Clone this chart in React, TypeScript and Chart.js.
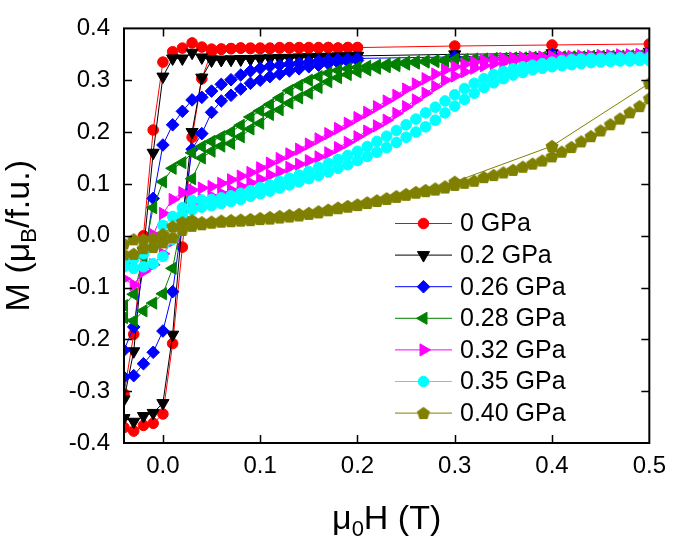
import React, { useEffect, useRef } from 'react';
import { Chart, registerables } from 'chart.js';

Chart.register(...registerables);

const seriesLabels = ['0 GPa', '0.2 GPa', '0.26 GPa', '0.28 GPa', '0.32 GPa', '0.35 GPa', '0.40 GPa'];
const seriesColors = ['#ff0000', '#000000', '#0000ff', '#008000', '#ff00ff', '#00ffff', '#808000'];

const xTickValues = [0, 0.1, 0.2, 0.3, 0.4, 0.5];
const xTickLabels = ['0.0', '0.1', '0.2', '0.3', '0.4', '0.5'];
const yTickValues = [-0.4, -0.3, -0.2, -0.1, 0, 0.1, 0.2, 0.3, 0.4];
const yTickLabels = ['-0.4', '-0.3', '-0.2', '-0.1', '0.0', '0.1', '0.2', '0.3', '0.4'];

const fieldDownShort = [0.5, 0.4, 0.3, 0.2, 0.19, 0.18, 0.17, 0.16, 0.15, 0.14, 0.13, 0.12, 0.11, 0.1, 0.09, 0.08, 0.07, 0.06, 0.05, 0.04, 0.03, 0.02, 0.01, 0, -0.01, -0.02, -0.03, -0.04, -0.05];
const fieldUpShort = [-0.05, -0.04, -0.03, -0.02, -0.01, 0, 0.01, 0.02, 0.03, 0.04, 0.05, 0.06, 0.07, 0.08, 0.09, 0.1, 0.11, 0.12, 0.13, 0.14, 0.15, 0.16, 0.17, 0.18, 0.19, 0.2];
const fieldDownFull = [0.5, 0.49, 0.48, 0.47, 0.46, 0.45, 0.44, 0.43, 0.42, 0.41, 0.4, 0.39, 0.38, 0.37, 0.36, 0.35, 0.34, 0.33, 0.32, 0.31, 0.3, 0.29, 0.28, 0.27, 0.26, 0.25, 0.24, 0.23, 0.22, 0.21, 0.2, 0.19, 0.18, 0.17, 0.16, 0.15, 0.14, 0.13, 0.12, 0.11, 0.1, 0.09, 0.08, 0.07, 0.06, 0.05, 0.04, 0.03, 0.02, 0.01, 0, -0.01, -0.02, -0.03, -0.04, -0.05];
const fieldUpFull = [-0.05, -0.04, -0.03, -0.02, -0.01, 0, 0.01, 0.02, 0.03, 0.04, 0.05, 0.06, 0.07, 0.08, 0.09, 0.1, 0.11, 0.12, 0.13, 0.14, 0.15, 0.16, 0.17, 0.18, 0.19, 0.2, 0.21, 0.22, 0.23, 0.24, 0.25, 0.26, 0.27, 0.28, 0.29, 0.3, 0.31, 0.32, 0.33, 0.34, 0.35, 0.36, 0.37, 0.38, 0.39, 0.4, 0.41, 0.42, 0.43, 0.44, 0.45, 0.46, 0.47, 0.48, 0.49, 0.5];
const fieldDownOlive = [0.5, 0.4, 0.3, 0.29, 0.28, 0.27, 0.26, 0.25, 0.24, 0.23, 0.22, 0.21, 0.2, 0.19, 0.18, 0.17, 0.16, 0.15, 0.14, 0.13, 0.12, 0.11, 0.1, 0.09, 0.08, 0.07, 0.06, 0.05, 0.04, 0.03, 0.02, 0.01, 0, -0.01, -0.02, -0.03, -0.04, -0.05];

// 0 GPa
const m0Down = [0.370, 0.368, 0.366, 0.363, 0.363, 0.362, 0.363, 0.362, 0.363, 0.362, 0.363, 0.362, 0.361, 0.362, 0.361, 0.362, 0.361, 0.360, 0.360, 0.364, 0.372, 0.362, 0.355, 0.335, 0.204, 0.0, -0.19, -0.305, -0.36];
const m0Up = [-0.37, -0.37, -0.377, -0.366, -0.362, -0.344, -0.208, -0.022, 0.19, 0.303, 0.355, 0.360, 0.361, 0.362, 0.362, 0.361, 0.362, 0.363, 0.362, 0.363, 0.362, 0.363, 0.363, 0.362, 0.363, 0.363];
// 0.2 GPa
const m02Down = [0.355, 0.352, 0.350, 0.347, 0.346, 0.346, 0.345, 0.345, 0.344, 0.344, 0.343, 0.343, 0.342, 0.342, 0.341, 0.341, 0.340, 0.340, 0.340, 0.344, 0.353, 0.342, 0.342, 0.307, 0.160, -0.030, -0.223, -0.316, -0.350];
const m02Up = [-0.36, -0.352, -0.359, -0.348, -0.342, -0.323, -0.191, 0.03, 0.2, 0.305, 0.338, 0.339, 0.340, 0.340, 0.341, 0.341, 0.342, 0.342, 0.343, 0.343, 0.344, 0.344, 0.345, 0.345, 0.346, 0.347];
// 0.26 GPa
const m026Down = [0.352, 0.350, 0.345, 0.342, 0.341, 0.340, 0.339, 0.337, 0.335, 0.333, 0.331, 0.329, 0.327, 0.323, 0.318, 0.310, 0.301, 0.292, 0.279, 0.267, 0.262, 0.240, 0.214, 0.175, 0.072, -0.060, -0.176, -0.221, -0.250];
const m026Up = [-0.275, -0.273, -0.270, -0.247, -0.225, -0.184, -0.108, 0.030, 0.167, 0.197, 0.238, 0.260, 0.271, 0.283, 0.294, 0.300, 0.307, 0.312, 0.318, 0.322, 0.326, 0.329, 0.332, 0.334, 0.336, 0.338];
// 0.28 GPa
const m028Down = [0.347, 0.347, 0.347, 0.346, 0.346, 0.346, 0.346, 0.345, 0.345, 0.345, 0.345,
  0.344, 0.344, 0.343, 0.343, 0.342, 0.342, 0.341, 0.341, 0.340, 0.340,
  0.339, 0.338, 0.337, 0.336, 0.335, 0.333, 0.331, 0.329, 0.327, 0.325,
  0.322, 0.319, 0.314, 0.307, 0.300, 0.290, 0.280, 0.266, 0.253, 0.241,
  0.229, 0.213, 0.200, 0.191, 0.182, 0.172, 0.160, 0.141, 0.130, 0.104,
  0.054, -0.040, -0.113, -0.135, -0.150];
const m028Up = [-0.165, -0.158, -0.164, -0.145, -0.130, -0.112, -0.063, 0.034, 0.110, 0.150,
  0.163, 0.173, 0.178, 0.191, 0.206, 0.217, 0.234, 0.243, 0.256, 0.266,
  0.275, 0.286, 0.297, 0.305, 0.311, 0.316, 0.320, 0.323, 0.326, 0.328,
  0.331, 0.333, 0.335, 0.336, 0.337, 0.338, 0.339, 0.339, 0.340, 0.340,
  0.341, 0.341, 0.342, 0.342, 0.343, 0.343, 0.344, 0.344, 0.344, 0.345,
  0.345, 0.345, 0.346, 0.346, 0.346, 0.347];
// 0.32 GPa
const m032Down = [0.350, 0.350, 0.349, 0.349, 0.348, 0.348, 0.347, 0.347, 0.346, 0.346,
  0.346, 0.345, 0.345, 0.344, 0.343, 0.342, 0.340, 0.338, 0.335, 0.331,
  0.326, 0.320, 0.312, 0.303, 0.293, 0.283, 0.271, 0.260, 0.249, 0.238,
  0.228, 0.217, 0.207, 0.197, 0.187, 0.177, 0.167, 0.158, 0.149, 0.140,
  0.131, 0.122, 0.115, 0.108, 0.101, 0.095, 0.092, 0.088, 0.083, 0.070,
  0.043, 0.002, -0.022, -0.041, -0.053, -0.060];
const m032Up = [-0.090, -0.083, -0.095, -0.069, -0.056, -0.035, -0.010, 0.046, 0.063, 0.070,
  0.076, 0.082, 0.088, 0.095, 0.102, 0.109, 0.117, 0.124, 0.132, 0.138,
  0.145, 0.152, 0.160, 0.170, 0.180, 0.191, 0.202, 0.212, 0.223, 0.236,
  0.249, 0.262, 0.275, 0.288, 0.300, 0.308, 0.316, 0.323, 0.328, 0.332,
  0.335, 0.337, 0.339, 0.340, 0.341, 0.342, 0.343, 0.344, 0.344, 0.345,
  0.345, 0.346, 0.346, 0.347, 0.347, 0.348];
// 0.35 GPa
const m035Down = [0.344, 0.344, 0.344, 0.343, 0.343, 0.342, 0.342, 0.341, 0.340, 0.338,
  0.335, 0.332, 0.329, 0.326, 0.322, 0.317, 0.311, 0.303, 0.294, 0.284,
  0.272, 0.260, 0.248, 0.237, 0.225, 0.214, 0.203, 0.192, 0.182, 0.172,
  0.163, 0.155, 0.147, 0.139, 0.132, 0.124, 0.117, 0.111, 0.105, 0.098,
  0.093, 0.087, 0.082, 0.077, 0.073, 0.070, 0.069, 0.068, 0.054, 0.037,
  0.020, -0.022, -0.035, -0.045, -0.050, -0.055];
const m035Up = [-0.065, -0.060, -0.063, -0.060, -0.054, -0.040, -0.007, 0.039, 0.050, 0.055,
  0.058, 0.062, 0.066, 0.070, 0.076, 0.081, 0.086, 0.092, 0.098, 0.104,
  0.110, 0.116, 0.123, 0.130, 0.137, 0.145, 0.153, 0.161, 0.170, 0.180,
  0.190, 0.200, 0.210, 0.223, 0.237, 0.250, 0.263, 0.275, 0.286, 0.295,
  0.303, 0.310, 0.315, 0.320, 0.323, 0.326, 0.328, 0.330, 0.332, 0.334,
  0.335, 0.336, 0.337, 0.337, 0.338, 0.338];
// 0.40 GPa
const m040Down = [0.294, 0.173, 0.104,
  0.095, 0.091, 0.088, 0.084, 0.080, 0.076, 0.072, 0.068, 0.064, 0.060,
  0.057, 0.054, 0.050, 0.047, 0.044, 0.042, 0.040, 0.038, 0.036, 0.034,
  0.032, 0.031, 0.030, 0.029, 0.027, 0.026, 0.030, 0.026, 0.018, 0.003,
  -0.005, -0.007, -0.007, -0.015, -0.020];
const m040Up = [-0.040, -0.036, -0.035, -0.024, -0.022, -0.013, -0.003, 0.011, 0.019, 0.022,
  0.025, 0.027, 0.028, 0.029, 0.030, 0.032, 0.033, 0.035, 0.037, 0.039,
  0.042, 0.045, 0.049, 0.053, 0.056, 0.059, 0.063, 0.067, 0.071, 0.075,
  0.079, 0.083, 0.086, 0.089, 0.093, 0.098, 0.102, 0.106, 0.113, 0.117,
  0.122, 0.127, 0.133, 0.139, 0.145, 0.153, 0.162, 0.171, 0.182, 0.192,
  0.203, 0.215, 0.226, 0.238, 0.250, 0.265];

const FONT = '"Liberation Sans", Arial, Helvetica, sans-serif';

type Pt = { x: number; y: number };
function loop(xa: number[], ya: number[], xb: number[], yb: number[]): Pt[] {
  const a = xa.map((x, i) => ({ x, y: ya[i] }));
  const b = xb.map((x, i) => ({ x, y: yb[i] }));
  return a.concat(b);
}

function makePentagon(color: string, r: number): HTMLCanvasElement {
  const s = Math.ceil(r * 2 + 2);
  const c = document.createElement('canvas');
  c.width = s;
  c.height = s;
  const g = c.getContext('2d')!;
  g.fillStyle = color;
  g.beginPath();
  for (let k = 0; k < 5; k++) {
    const a = -Math.PI / 2 + (k * 2 * Math.PI) / 5;
    const px = s / 2 + r * Math.cos(a);
    const py = s / 2 + 0.5 + r * Math.sin(a);
    if (k === 0) g.moveTo(px, py);
    else g.lineTo(px, py);
  }
  g.closePath();
  g.fill();
  return c;
}

export default function App() {
  const ref = useRef<HTMLCanvasElement | null>(null);

  useEffect(() => {
    const canvas = ref.current;
    if (!canvas) return;
    const pentagon = makePentagon(seriesColors[6], 6.8);

    const styles: any[] = [
      { pointStyle: 'circle', radius: 5.3, rotation: 0 },
      { pointStyle: 'triangle', radius: 7, rotation: 180 },
      { pointStyle: 'rectRot', radius: 6.3, rotation: 0 },
      { pointStyle: 'triangle', radius: 7, rotation: 270 },
      { pointStyle: 'triangle', radius: 7, rotation: 90 },
      { pointStyle: 'circle', radius: 5.3, rotation: 0 },
      { pointStyle: pentagon, radius: 6.5, rotation: 0 },
    ];

    const dataLoops: Pt[][] = [
      loop(fieldDownShort, m0Down, fieldUpShort, m0Up),
      loop(fieldDownShort, m02Down, fieldUpShort, m02Up),
      loop(fieldDownShort, m026Down, fieldUpShort, m026Up),
      loop(fieldDownFull, m028Down, fieldUpFull, m028Up),
      loop(fieldDownFull, m032Down, fieldUpFull, m032Up),
      loop(fieldDownFull, m035Down, fieldUpFull, m035Up),
      loop(fieldDownOlive, m040Down, fieldUpFull, m040Up),
    ];

    const datasets = dataLoops.map((d, i) => ({
      label: seriesLabels[i],
      data: d,
      showLine: true,
      borderColor: seriesColors[i],
      backgroundColor: seriesColors[i],
      borderWidth: 1,
      pointStyle: styles[i].pointStyle,
      pointRadius: styles[i].radius,
      pointRotation: styles[i].rotation,
      pointBackgroundColor: seriesColors[i],
      pointBorderColor: seriesColors[i],
      pointBorderWidth: 1,
      order: 10 - i,
      clip: 0,
    }));

    const drawMarker = (ctx: CanvasRenderingContext2D, i: number, x: number, y: number) => {
      const st = styles[i];
      ctx.save();
      ctx.fillStyle = seriesColors[i];
      ctx.strokeStyle = seriesColors[i];
      ctx.lineWidth = 1;
      if (st.pointStyle instanceof HTMLCanvasElement) {
        const c = st.pointStyle as HTMLCanvasElement;
        ctx.drawImage(c, x - c.width / 2, y - c.height / 2);
      } else if (st.pointStyle === 'circle') {
        ctx.beginPath();
        ctx.arc(x, y, st.radius, 0, Math.PI * 2);
        ctx.fill();
        ctx.stroke();
      } else if (st.pointStyle === 'rectRot') {
        const r = st.radius;
        ctx.beginPath();
        ctx.moveTo(x, y - r);
        ctx.lineTo(x + r, y);
        ctx.lineTo(x, y + r);
        ctx.lineTo(x - r, y);
        ctx.closePath();
        ctx.fill();
        ctx.stroke();
      } else if (st.pointStyle === 'triangle') {
        const r = st.radius;
        let rad = (st.rotation * Math.PI) / 180;
        ctx.beginPath();
        for (let k = 0; k < 3; k++) {
          const px = x + Math.sin(rad) * r;
          const py = y - Math.cos(rad) * r;
          if (k === 0) ctx.moveTo(px, py);
          else ctx.lineTo(px, py);
          rad += (2 * Math.PI) / 3;
        }
        ctx.closePath();
        ctx.fill();
        ctx.stroke();
      }
      ctx.restore();
    };

    const drawRich = (ctx: CanvasRenderingContext2D, parts: { t: string; sub: boolean }[], cx: number, baseline: number) => {
      const big = `34px ${FONT}`;
      const small = `22px ${FONT}`;
      let total = 0;
      const widths = parts.map((p) => {
        ctx.font = p.sub ? small : big;
        const w = ctx.measureText(p.t).width;
        total += w;
        return w;
      });
      let x = cx - total / 2;
      ctx.textAlign = 'left';
      ctx.textBaseline = 'alphabetic';
      parts.forEach((p, i) => {
        ctx.font = p.sub ? small : big;
        ctx.fillText(p.t, x, baseline + (p.sub ? 7 : 0));
        x += widths[i];
      });
    };

    const framePlugin = {
      id: 'frame',
      afterDraw(chart: any) {
        const ctx: CanvasRenderingContext2D = chart.ctx;
        const area = chart.chartArea;
        const xs = chart.scales.x;
        const ys = chart.scales.y;
        ctx.save();
        ctx.strokeStyle = '#000';
        ctx.fillStyle = '#000';
        ctx.lineWidth = 1.5;
        ctx.beginPath();
        xTickValues.forEach((v) => {
          const px = Math.round(xs.getPixelForValue(v)) + 0.5;
          if (px > area.left + 2 && px < area.right - 2) {
            ctx.moveTo(px, area.bottom);
            ctx.lineTo(px, area.bottom - 8);
            ctx.moveTo(px, area.top);
            ctx.lineTo(px, area.top + 8);
          }
        });
        yTickValues.forEach((v) => {
          const py = Math.round(ys.getPixelForValue(v)) + 0.5;
          if (py > area.top + 2 && py < area.bottom - 2) {
            ctx.moveTo(area.left, py);
            ctx.lineTo(area.left + 8, py);
            ctx.moveTo(area.right, py);
            ctx.lineTo(area.right - 8, py);
          }
        });
        ctx.stroke();
        ctx.lineWidth = 2;
        ctx.strokeRect(area.left, area.top, area.right - area.left, area.bottom - area.top);

        const legX0 = 395;
        const legX1 = 452;
        const legTextX = 460;
        const legY0 = 223.5;
        const legDy = 31.6;
        seriesLabels.forEach((lab, i) => {
          const y = legY0 + i * legDy;
          ctx.strokeStyle = seriesColors[i];
          ctx.lineWidth = 1;
          ctx.beginPath();
          ctx.moveTo(legX0, y);
          ctx.lineTo(legX1, y);
          ctx.stroke();
          drawMarker(ctx, i, (legX0 + legX1) / 2, y);
          ctx.fillStyle = '#000';
          ctx.font = `25px ${FONT}`;
          ctx.textAlign = 'left';
          ctx.textBaseline = 'middle';
          ctx.fillText(lab, legTextX, y + 1);
        });

        ctx.fillStyle = '#000';
        drawRich(ctx, [{ t: 'μ', sub: false }, { t: '0', sub: true }, { t: 'H (T)', sub: false }], (area.left + area.right) / 2, 529);
        ctx.save();
        ctx.translate(29, (area.top + area.bottom) / 2);
        ctx.rotate(-Math.PI / 2);
        drawRich(ctx, [{ t: 'M (μ', sub: false }, { t: 'B', sub: true }, { t: '/f.u.)', sub: false }], 0, 0);
        ctx.restore();
        ctx.restore();
      },
    };

    const chart = new Chart(canvas, {
      type: 'scatter',
      data: { datasets: datasets as any },
      options: {
        animation: false,
        responsive: false,
        maintainAspectRatio: false,
        devicePixelRatio: 1,
        layout: { padding: { left: 0, right: 23, top: 13, bottom: 0 } },
        plugins: { legend: { display: false }, tooltip: { enabled: false } },
        scales: {
          x: {
            type: 'linear',
            min: -0.04,
            max: 0.5,
            grid: { display: false, drawTicks: false },
            border: { display: false },
            afterBuildTicks: (s: any) => {
              s.ticks = xTickValues.map((v) => ({ value: v }));
            },
            afterFit: (s: any) => {
              s.height = 101;
            },
            ticks: {
              padding: 9,
              color: '#000',
              autoSkip: false,
              maxRotation: 0,
              font: { family: FONT, size: 24 },
              callback: (_v: any, i: number) => xTickLabels[i],
            },
          },
          y: {
            type: 'linear',
            min: -0.4,
            max: 0.4,
            grid: { display: false, drawTicks: false },
            border: { display: false },
            afterBuildTicks: (s: any) => {
              s.ticks = yTickValues.map((v) => ({ value: v }));
            },
            afterFit: (s: any) => {
              s.width = 124;
            },
            ticks: {
              padding: 14,
              color: '#000',
              autoSkip: false,
              font: { family: FONT, size: 24 },
              callback: (_v: any, i: number) => yTickLabels[i],
            },
          },
        },
      } as any,
      plugins: [framePlugin],
    });

    return () => {
      chart.destroy();
    };
  }, []);

  return (
    <div style={{ position: 'absolute', left: 0, top: 0, width: 675, height: 544, background: '#fff' }}>
      <canvas ref={ref} width={675} height={544} style={{ display: 'block', width: 675, height: 544 }} />
    </div>
  );
}
